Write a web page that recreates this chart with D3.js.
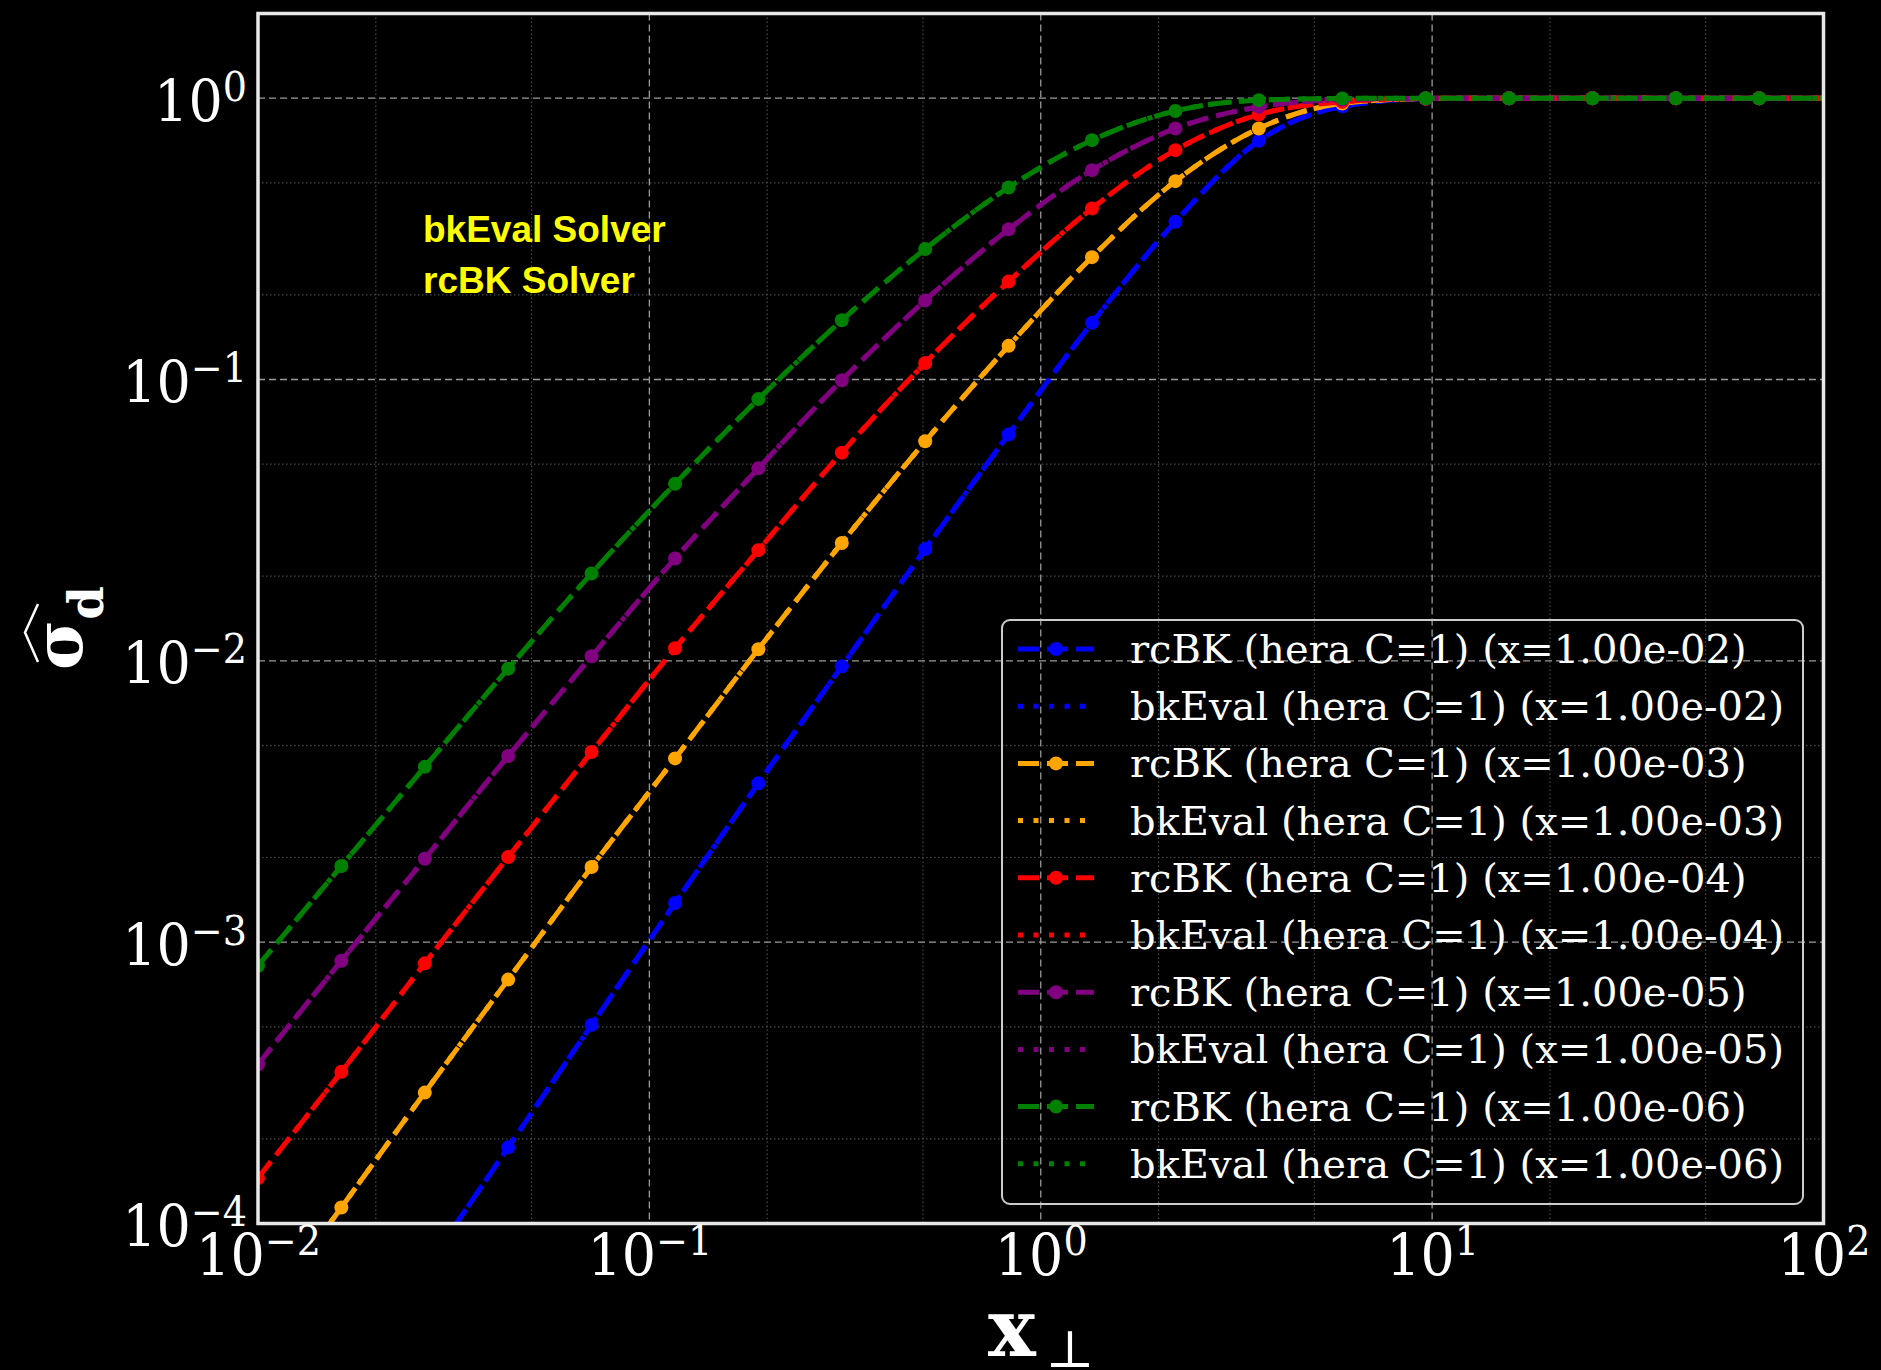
<!DOCTYPE html>
<html>
<head>
<meta charset="utf-8">
<script src="https://cdn.jsdelivr.net/npm/d3@7"></script>
<style>
  html, body { margin: 0; padding: 0; background: #000; }
  svg { display: block; }
</style>
</head>
<body>
<svg id="chart" width="1881" height="1370"></svg>
<script>
// ---------------- data ----------------
// transverse separation r (marker positions; last point = right edge of the curves)
const rPoints = [0.01, 0.01633, 0.02668, 0.04357, 0.07117, 0.1163, 0.1899, 0.3102, 0.5067, 0.8276,
                 1.352, 2.208, 3.607, 5.892, 9.625, 15.72, 25.68, 41.94, 68.51, 100];
const markerCount = 19; // markers on the first 19 points

const rcBK_x1e2 = [9.25e-6, 2.52e-5, 6.85e-5, 1.865e-4, 5.08e-4, 1.378e-3, 3.67e-3, 9.57e-3, 0.02496, 0.0638,
                   0.1590, 0.3639, 0.7053, 0.935, 0.996, 1.0, 1.0, 1.0, 1.0, 1.0];
const rcBK_x1e3 = [4.45e-5, 1.14e-4, 2.92e-4, 7.36e-4, 1.85e-3, 4.50e-3, 0.0110, 0.02625, 0.0603, 0.1317,
                   0.2723, 0.5072, 0.7805, 0.9576, 0.997, 1.0, 1.0, 1.0, 1.0, 1.0];
const rcBK_x1e4 = [1.452e-4, 3.46e-4, 8.41e-4, 2.006e-3, 4.74e-3, 0.01108, 0.02474, 0.05495, 0.1145, 0.2229,
                   0.4057, 0.6535, 0.875, 0.970, 0.998, 1.0, 1.0, 1.0, 1.0, 1.0];
const rcBK_x1e5 = [3.68e-4, 8.59e-4, 1.98e-3, 4.59e-3, 0.01038, 0.02311, 0.04836, 0.0994, 0.1911, 0.3419,
                   0.5548, 0.7806, 0.931, 0.988, 0.999, 1.0, 1.0, 1.0, 1.0, 1.0];
const rcBK_x1e6 = [8.25e-4, 1.865e-3, 4.20e-3, 9.38e-3, 0.02046, 0.04261, 0.0852, 0.1624, 0.2910, 0.4817,
                   0.7093, 0.901, 0.984, 0.998, 1.0, 1.0, 1.0, 1.0, 1.0, 1.0];
// bkEval curves coincide with the rcBK curves in the picture
const bkEval_x1e2 = [9.25e-6, 2.52e-5, 6.85e-5, 1.865e-4, 5.08e-4, 1.378e-3, 3.67e-3, 9.57e-3, 0.02496, 0.0638,
                     0.1590, 0.3639, 0.7053, 0.935, 0.996, 1.0, 1.0, 1.0, 1.0, 1.0];
const bkEval_x1e3 = [4.45e-5, 1.14e-4, 2.92e-4, 7.36e-4, 1.85e-3, 4.50e-3, 0.0110, 0.02625, 0.0603, 0.1317,
                     0.2723, 0.5072, 0.7805, 0.9576, 0.997, 1.0, 1.0, 1.0, 1.0, 1.0];
const bkEval_x1e4 = [1.452e-4, 3.46e-4, 8.41e-4, 2.006e-3, 4.74e-3, 0.01108, 0.02474, 0.05495, 0.1145, 0.2229,
                     0.4057, 0.6535, 0.875, 0.970, 0.998, 1.0, 1.0, 1.0, 1.0, 1.0];
const bkEval_x1e5 = [3.68e-4, 8.59e-4, 1.98e-3, 4.59e-3, 0.01038, 0.02311, 0.04836, 0.0994, 0.1911, 0.3419,
                     0.5548, 0.7806, 0.931, 0.988, 0.999, 1.0, 1.0, 1.0, 1.0, 1.0];
const bkEval_x1e6 = [8.25e-4, 1.865e-3, 4.20e-3, 9.38e-3, 0.02046, 0.04261, 0.0852, 0.1624, 0.2910, 0.4817,
                     0.7093, 0.901, 0.984, 0.998, 1.0, 1.0, 1.0, 1.0, 1.0, 1.0];

const xLabels = ["1.00e-02", "1.00e-03", "1.00e-04", "1.00e-05", "1.00e-06"];
const seriesColors = ["#0000ff", "#ffa500", "#ff0000", "#800080", "#008000"];
const rcBKSeries = [rcBK_x1e2, rcBK_x1e3, rcBK_x1e4, rcBK_x1e5, rcBK_x1e6];
const bkEvalSeries = [bkEval_x1e2, bkEval_x1e3, bkEval_x1e4, bkEval_x1e5, bkEval_x1e6];

const xTickValues = [1e-2, 1e-1, 1e0, 1e1, 1e2];
const xTickExps = ["\u22122", "\u22121", "0", "1", "2"];
const yTickValues = [1e-4, 1e-3, 1e-2, 1e-1, 1e0];
const yTickExps = ["\u22124", "\u22123", "\u22122", "\u22121", "0"];
const gridMinorSubs = [2, 5];
const annotations = ["bkEval Solver", "rcBK Solver"];

// ---------------- layout ----------------
const W = 1881, H = 1370;
const P = { left: 258, right: 1823.5, top: 13.5, bottom: 1223.5 };
const svg = d3.select("#chart");
svg.append("rect").attr("width", W).attr("height", H).attr("fill", "#000");

const x = d3.scaleLog().domain([1e-2, 1e2]).range([P.left, P.right]);
const y = d3.scaleLog().domain([1e-4, 2]).range([P.bottom, P.top]);

svg.append("defs").append("clipPath").attr("id", "plotclip")
  .append("rect").attr("x", P.left).attr("y", P.top)
  .attr("width", P.right - P.left).attr("height", P.bottom - P.top);

const SERIF = "'DejaVu Serif', serif";
const LW = 5, MR = 7;

// ---------------- grid ----------------
const minorX = [], minorY = [];
for (let d = -2; d < 2; d++) gridMinorSubs.forEach(m => minorX.push(m * Math.pow(10, d)));
for (let d = -4; d < 1; d++) gridMinorSubs.forEach(m => { const v = m * Math.pow(10, d); if (v < 2) minorY.push(v); });

const grid = svg.append("g");
grid.selectAll(".mx").data(minorX).join("line")
  .attr("x1", d => x(d)).attr("x2", d => x(d)).attr("y1", P.top).attr("y2", P.bottom)
  .attr("stroke", "#4a4a4a").attr("stroke-width", 1.2).attr("stroke-dasharray", "1.5 2.5");
grid.selectAll(".my").data(minorY).join("line")
  .attr("y1", d => y(d)).attr("y2", d => y(d)).attr("x1", P.left).attr("x2", P.right)
  .attr("stroke", "#4a4a4a").attr("stroke-width", 1.2).attr("stroke-dasharray", "1.5 2.5");
grid.selectAll(".gx").data(xTickValues).join("line")
  .attr("x1", d => x(d)).attr("x2", d => x(d)).attr("y1", P.top).attr("y2", P.bottom)
  .attr("stroke", "#9a9a9a").attr("stroke-width", 1.3).attr("stroke-dasharray", "7 4");
grid.selectAll(".gy").data(yTickValues).join("line")
  .attr("y1", d => y(d)).attr("y2", d => y(d)).attr("x1", P.left).attr("x2", P.right)
  .attr("stroke", "#9a9a9a").attr("stroke-width", 1.3).attr("stroke-dasharray", "7 4");

// ---------------- curves ----------------
const lineGen = d3.line().x(d => x(d[0])).y(d => y(d[1])).curve(d3.curveMonotoneX);
const plotG = svg.append("g").attr("clip-path", "url(#plotclip)");
rcBKSeries.forEach((vals, i) => {
  const pts = rPoints.map((r, k) => [r, vals[k]]);
  plotG.append("path").attr("d", lineGen(pts)).attr("fill", "none")
    .attr("stroke", seriesColors[i]).attr("stroke-width", LW).attr("stroke-dasharray", "21 8");
  plotG.selectAll(null).data(pts.slice(0, markerCount)).join("circle")
    .attr("cx", d => x(d[0])).attr("cy", d => y(d[1])).attr("r", MR).attr("fill", seriesColors[i]);
  const bpts = rPoints.map((r, k) => [r, bkEvalSeries[i][k]]);
  plotG.append("path").attr("d", lineGen(bpts)).attr("fill", "none")
    .attr("stroke", seriesColors[i]).attr("stroke-width", LW).attr("stroke-dasharray", "5 10.5");
});

// ---------------- frame ----------------
svg.append("rect").attr("x", P.left).attr("y", P.top)
  .attr("width", P.right - P.left).attr("height", P.bottom - P.top)
  .attr("fill", "none").attr("stroke", "#e8e8e8").attr("stroke-width", 3.5);

// ---------------- axes & tick labels ----------------
const gx = svg.append("g").attr("transform", `translate(0,${P.bottom})`)
  .call(d3.axisBottom(x).tickValues(xTickValues).tickSize(0).tickFormat(""));
gx.select(".domain").remove();
gx.selectAll(".tick text").remove();
gx.selectAll(".tick").each(function (d, i) {
  const t = d3.select(this).append("g").attr("transform", "translate(0,51) scale(0.93,1)")
    .append("text").attr("text-anchor", "middle")
    .attr("fill", "#fff").attr("font-family", SERIF).attr("font-size", 58);
  t.append("tspan").text("10");
  t.append("tspan").attr("font-size", 41).attr("dy", -20).text(xTickExps[i]);
});

const gy = svg.append("g").attr("transform", `translate(${P.left},0)`)
  .call(d3.axisLeft(y).tickValues(yTickValues).tickSize(0).tickFormat(""));
gy.select(".domain").remove();
gy.selectAll(".tick text").remove();
gy.selectAll(".tick").each(function (d, i) {
  const t = d3.select(this).append("g").attr("transform", "translate(-11,22) scale(0.93,1)")
    .append("text").attr("text-anchor", "end")
    .attr("fill", "#fff").attr("font-family", SERIF).attr("font-size", 58);
  t.append("tspan").text("10");
  t.append("tspan").attr("font-size", 41).attr("dy", -20).text(yTickExps[i]);
});

// ---------------- axis labels ----------------
const xl = svg.append("text").attr("x", 988).attr("y", 1356).attr("fill", "#fff")
  .attr("font-family", SERIF).attr("font-size", 80).attr("font-weight", "bold");
xl.append("tspan").text("x");
xl.append("tspan").attr("font-weight", "normal").attr("font-size", 52).attr("dx", 10).attr("dy", 11).text("\u22A5");

const yl = svg.append("g").attr("transform", "translate(82,670) rotate(-90)");
const ylt = yl.append("text").attr("x", 0).attr("y", 0).attr("fill", "#fff")
  .attr("font-family", SERIF).attr("font-size", 68).attr("font-weight", "bold");
ylt.append("tspan").text("\u03C3");
ylt.append("tspan").attr("font-size", 48).attr("dy", 21).text("d");
yl.append("path").attr("d", "M8,-44 L37.5,-57 L66,-44").attr("fill", "none")
  .attr("stroke", "#fff").attr("stroke-width", 2.5);

// ---------------- annotations ----------------
svg.selectAll(".ann").data(annotations).join("text")
  .attr("x", 423).attr("y", (d, i) => 242 + i * 51)
  .attr("fill", "#ffff00").attr("font-family", "'Liberation Sans', Arial, sans-serif")
  .attr("font-weight", "bold").attr("font-size", 37).text(d => d);

// ---------------- legend ----------------
const L = { x: 1002, y: 620, w: 801, h: 584, row0: 649, rowStep: 57.2, h1: 1018, h2: 1094, tx: 1130 };
const lg = svg.append("g");
lg.append("rect").attr("x", L.x).attr("y", L.y).attr("width", L.w).attr("height", L.h)
  .attr("rx", 8).attr("fill", "none").attr("stroke", "#cccccc").attr("stroke-width", 2);
const legendItems = [];
xLabels.forEach((xl, i) => {
  legendItems.push({ name: `rcBK (hera C=1) (x=${xl})`, color: seriesColors[i], dashed: true });
  legendItems.push({ name: `bkEval (hera C=1) (x=${xl})`, color: seriesColors[i], dashed: false });
});
legendItems.forEach((it, j) => {
  const cy = L.row0 + j * L.rowStep;
  lg.append("line").attr("x1", L.h1).attr("x2", L.h2).attr("y1", cy).attr("y2", cy)
    .attr("stroke", it.color).attr("stroke-width", LW)
    .attr("stroke-dasharray", it.dashed ? "21 8" : "5 10.5");
  if (it.dashed) lg.append("circle").attr("cx", (L.h1 + L.h2) / 2).attr("cy", cy).attr("r", MR).attr("fill", it.color);
  lg.append("text").attr("x", L.tx).attr("y", cy).attr("dominant-baseline", "central")
    .attr("fill", "#fff").attr("font-family", SERIF).attr("font-size", 40).text(it.name);
});
</script>
</body>
</html>
